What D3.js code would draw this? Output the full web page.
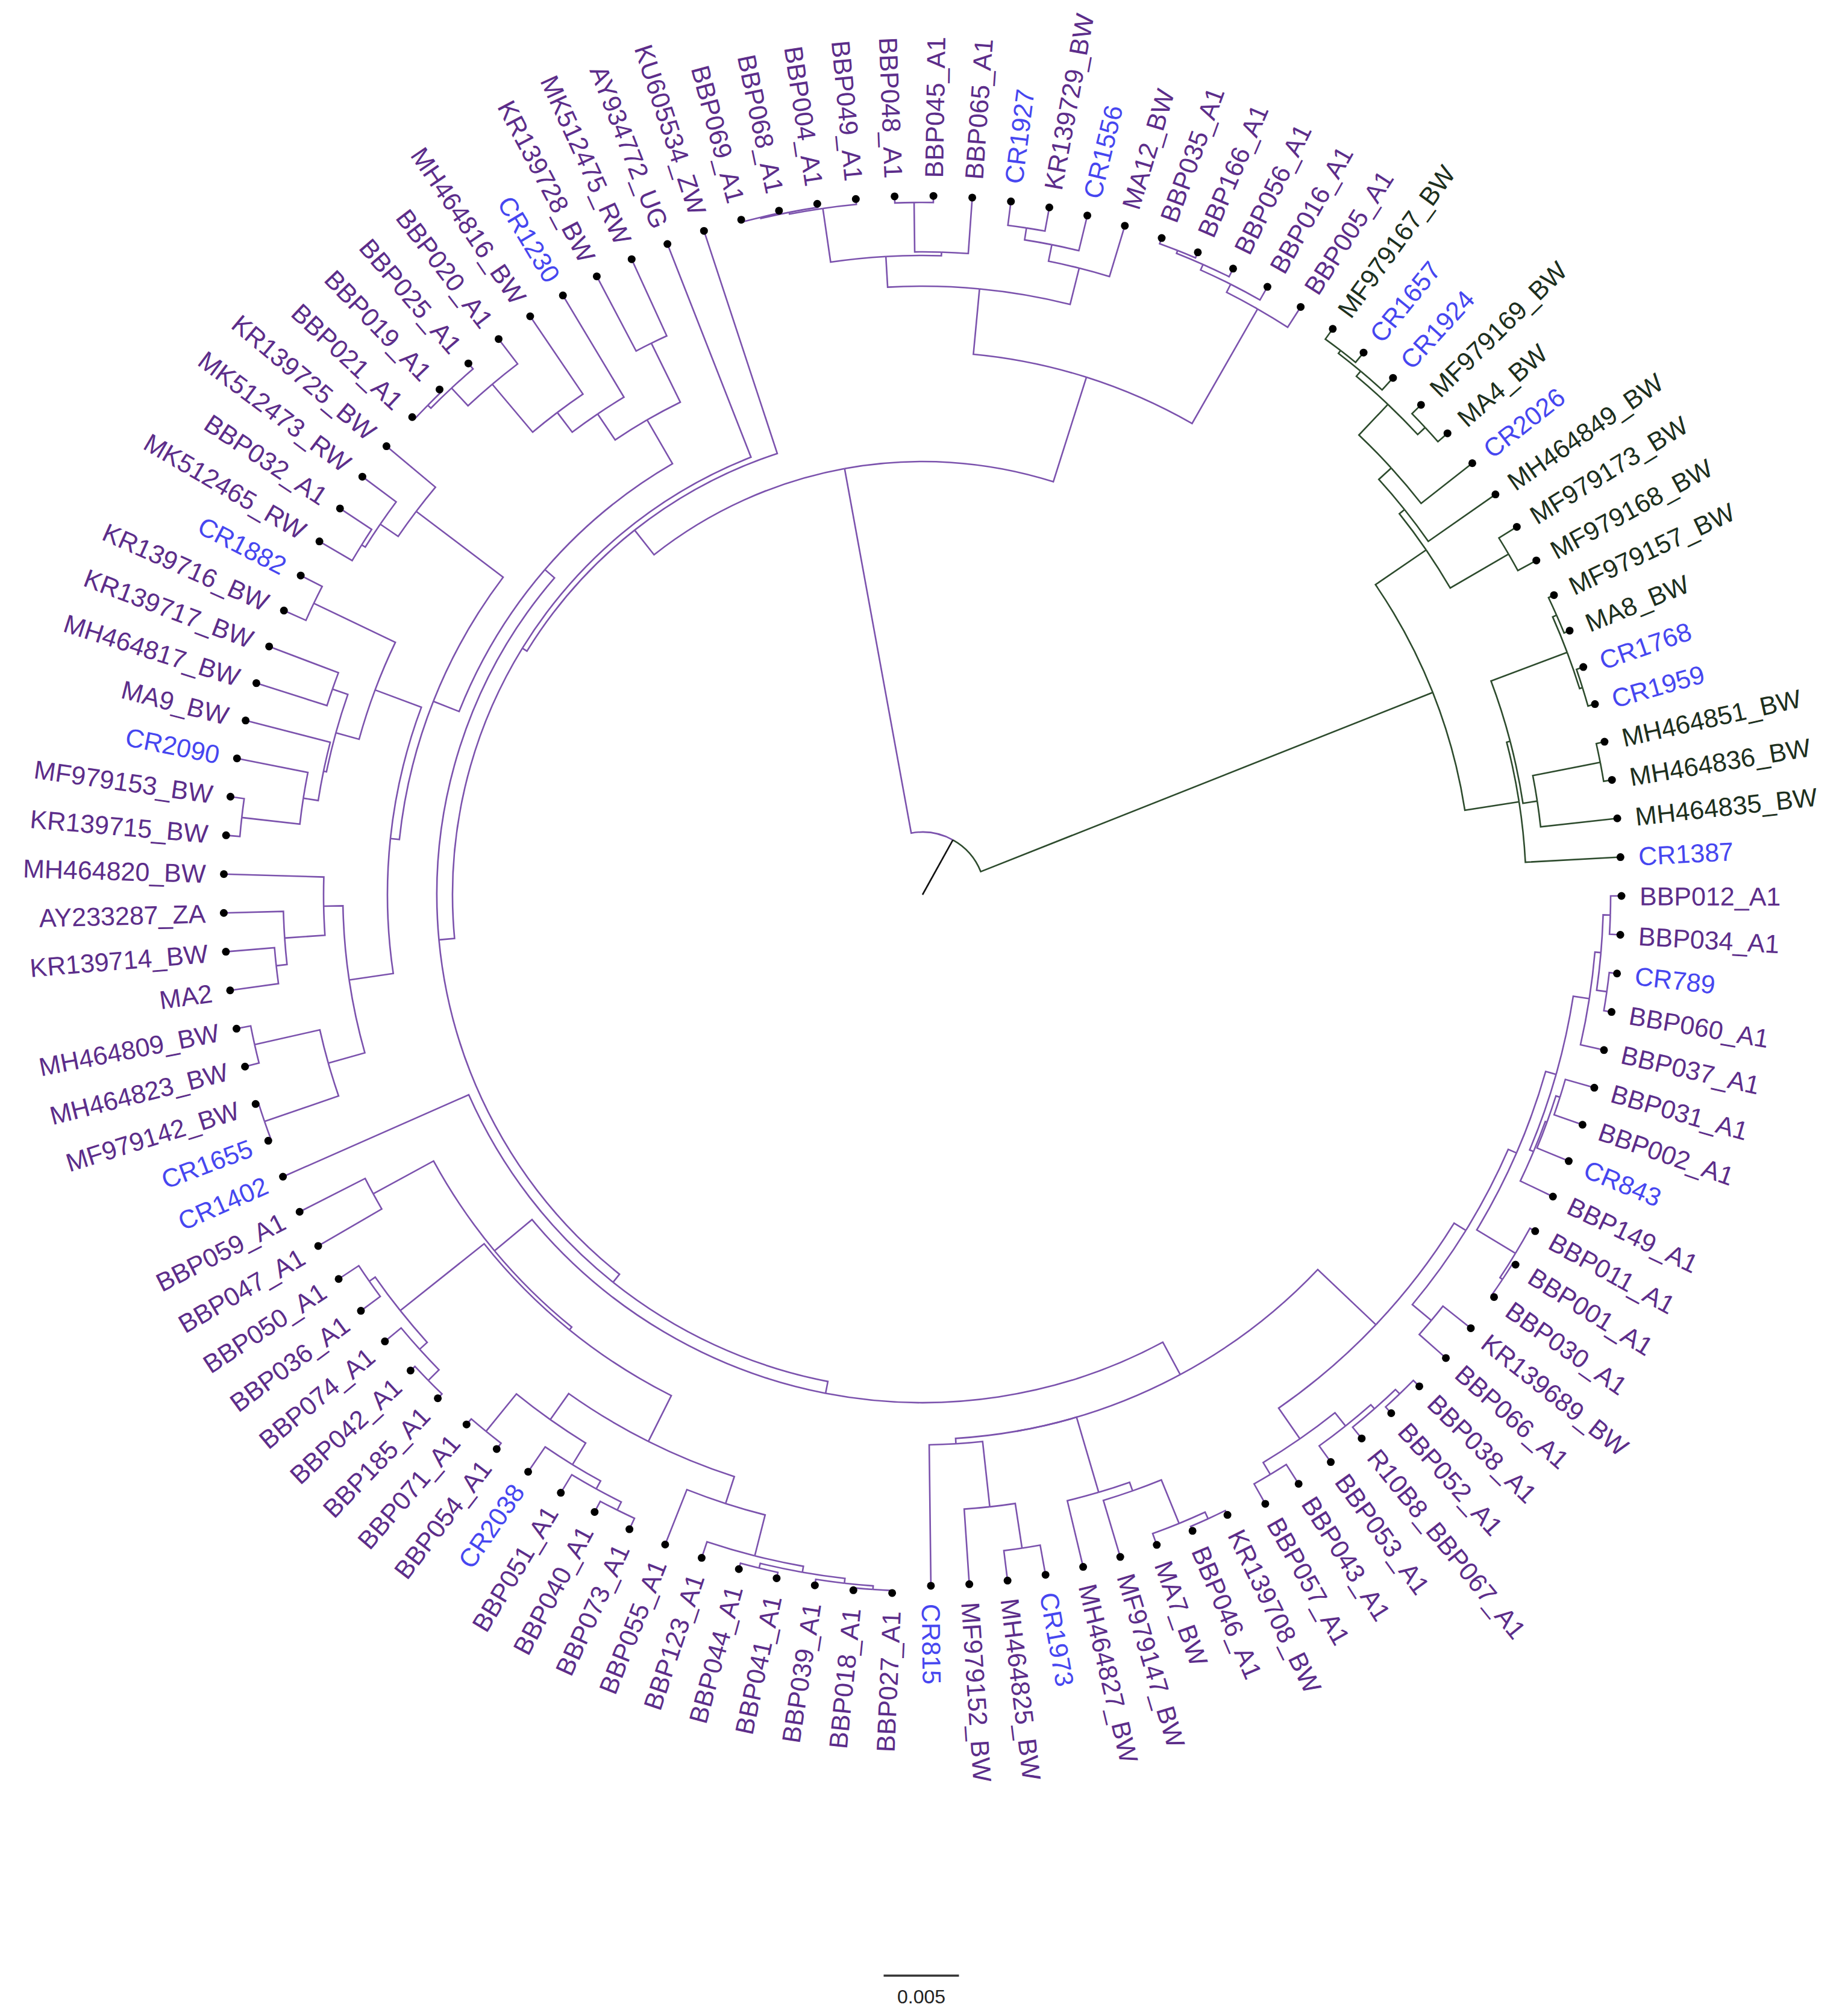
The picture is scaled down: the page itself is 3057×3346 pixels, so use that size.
<!DOCTYPE html>
<html>
<head>
<meta charset="utf-8">
<script src="https://cdn.jsdelivr.net/npm/d3@7"></script>
<style>html,body{margin:0;padding:0;background:#ffffff;}</style>
</head>
<body>
<svg id="chart" width="3057" height="3346"></svg>
<script>
// ---------------- DATA (ultrametric tree, branch lengths in substitutions/site) ----------------
// Right-hand purple clade: BBP012 ... CR815
const cladeRightA = "((((((((BBP012_A1:0.00072,BBP034_A1:0.00072):0.00048,(CR789:0.00052,BBP060_A1:0.00052):0.00068):0.0004,BBP037_A1:0.0016):0.00108," +
  "(((BBP031_A1:0.002,BBP002_A1:0.002):0.00028,CR843:0.00228):0.00012,BBP149_A1:0.0024):0.00028):0.00072," +
  "(BBP011_A1:0.0004,(BBP001_A1:0.0002,BBP030_A1:0.0002):0.0002):0.003):0.0006," +
  "(KR139689_BW:0.00236,BBP066_A1:0.00236):0.00164):0.00092," +
  "((((BBP038_A1:0.00056,BBP052_A1:0.00056):0.0004,R10B8_BBP067_A1:0.00096):0.00036,BBP053_A1:0.00132):0.00112," +
  "(BBP043_A1:0.00152,BBP057_A1:0.00152):0.00092):0.00248):0.00532,";
const cladeRightB = "(((((KR139708_BW:0.00032,BBP046_A1:0.00032):0.00048,MA7_BW:0.0008):0.00312,MF979147_BW:0.00392):0.0006,MH464827_BW:0.00452):0.0052," +
  "(((CR1973:0.002,MH464825_BW:0.002):0.003,MF979152_BW:0.005):0.00436,CR815:0.00936):0.00036))";
// Bottom-left purple clade: BBP027 ... BBP059
const cladeBottom = "((" + "((((((BBP027_A1:0.00016,BBP018_A1:0.00016):0.00024,BBP039_A1:0.0004):0.00032,(BBP041_A1:0.0004,BBP044_A1:0.0004):0.00032):0.0004,BBP123_A1:0.00112):0.0028,BBP055_A1:0.00392):0.00188," +
  "((((BBP073_A1:0.0008,BBP040_A1:0.0008):0.0006,BBP051_A1:0.0014):0.0006,CR2038:0.002):0.00168,(BBP054_A1:0.00048,BBP071_A1:0.00048):0.0032):0.00212):0.0034," +
  "(((BBP185_A1:0.0004,BBP042_A1:0.0004):0.001,BBP074_A1:0.0014):0.00068,(BBP036_A1:0.0016,BBP050_A1:0.0016):0.00048):0.00712):0.00024," +
  "(BBP047_A1:0.00488,BBP059_A1:0.00488):0.00456)";
// Left purple clade: CR1655 ... MK512475
const cladeLeft = "((((((CR1655:0.0002,MF979142_BW:0.0002):0.0052,(MH464823_BW:0.00096,MH464809_BW:0.00096):0.00444):0.00252," +
  "(((MA2:0.00324,KR139714_BW:0.00324):0.00072,AY233287_ZA:0.00396):0.00268,MH464820_BW:0.00664):0.00128):0.00296," +
  "(((((KR139715_BW:0.00092,MF979153_BW:0.00092):0.00388,CR2090:0.0048):0.001,MA9_BW:0.0058):0.0002,(MH464817_BW:0.00492,KR139717_BW:0.00492):0.00108):0.0016," +
  "(KR139716_BW:0.0016,CR1882:0.0016):0.006):0.00328):0.0006," +
  "(((MK512465_RW:0.00252,BBP032_A1:0.00252):0.00028,MK512473_RW:0.0028):0.00144,KR139725_BW:0.00424):0.00724):0.00184," +
  "((((((BBP021_A1:0.0002,BBP019_A1:0.0002):0.00028,BBP025_A1:0.00048):0.0016,BBP020_A1:0.00208):0.00416,MH464816_BW:0.00624):0.00164,CR1230:0.00788):0.00208," +
  "(KR139728_BW:0.0056,MK512475_RW:0.0056):0.00436):0.00336)";
// Top purple clade: BBP069 ... BBP005
const cladeTop = "((((((BBP069_A1:0.00016,BBP068_A1:0.00016):0.00008,BBP004_A1:0.00024):0.00012,BBP049_A1:0.00036):0.0036," +
  "((BBP048_A1:0.00044,BBP045_A1:0.00044):0.00328,BBP065_A1:0.00372):0.00024):0.00204," +
  "(((CR1927:0.0016,KR139729_BW:0.0016):0.0008,CR1556:0.0024):0.00112,MA12_BW:0.00352):0.00248):0.00436," +
  "((((BBP035_A1:0.0004,BBP166_A1:0.0004):0.0002,BBP056_A1:0.0006):0.0004,BBP016_A1:0.001):0.0006,BBP005_A1:0.0016):0.00876)";
// Green clade: MF979167 ... CR1387
const cladeGreen = "(((((((MF979167_BW:0.00084,CR1657:0.00084):0.00024,CR1924:0.00108):0.00044,(MF979169_BW:0.00084,MA4_BW:0.00084):0.00068):0.0028,CR2026:0.00432):0.00112,MH464849_BW:0.00544):0.00044," +
  "(MF979173_BW:0.0014,MF979168_BW:0.0014):0.00448):0.00408," +
  "((((MF979157_BW:0.0004,MA8_BW:0.0004):0.00028,(CR1768:0.00048,CR1959:0.00048):0.0002):0.0054," +
  "((MH464851_BW:0.00056,MH464836_BW:0.00056):0.00456,MH464835_BW:0.00512):0.00096):0.00024,CR1387:0.00632):0.00364)";

// Assemble the whole tree
const zClade = "((" + cladeRightA + cladeRightB + ":0.00244," + cladeBottom + ":0.00324):0.0008,CR1402:0.01348)";
const purpleClade = "((((" + zClade + ":0.00068," + cladeLeft + ":0.00084):0.00104,AY934772_UG:0.0152):0.00036,KU605534_ZW:0.01556):0.00208," + cladeTop + ":0.00728)";
const newick = "(" + purpleClade + ":0.0246," + cladeGreen + ":0.03228):0.00416;";

// Labels printed in blue
const blueLabels = ["CR1230","CR1882","CR2090","CR1655","CR1402","CR2038","CR815","CR1973","CR843","CR789",
  "CR1387","CR1959","CR1768","CR2026","CR1924","CR1657","CR1556","CR1927"];
const scaleBarValue = 0.005;
const scaleBarLabel = "0.005";

// ---------------- STYLE ----------------
const W = 3057, H = 3346;
const CX = 1531, CY = 1485;
const TIP_R = 1160;
const LABEL_GAP = 30;
const START_ANGLE = 90.1; // compass degrees of first leaf
const COL = {
  purpleBranch: "#7b52ad", purpleText: "#5c2d8a",
  greenBranch: "#2d4b2d", greenText: "#1d2f1d",
  blue: "#4646f0", root: "#111111"
};

// ---------------- PARSE ----------------
function parseNewick(s) {
  let i = 0;
  function node() {
    const n = { name: "", length: 0 };
    if (s[i] === "(") {
      i++;
      n.children = [];
      while (true) {
        n.children.push(node());
        if (s[i] === ",") { i++; continue; }
        break;
      }
      if (s[i] === ")") i++;
    }
    let name = "";
    while (i < s.length && !",():;".includes(s[i])) name += s[i++];
    n.name = name.trim();
    if (s[i] === ":") {
      i++;
      let num = "";
      while (i < s.length && !",();".includes(s[i])) num += s[i++];
      n.length = parseFloat(num);
    }
    return n;
  }
  return node();
}

const svg = d3.select("#chart");
svg.append("rect").attr("width", W).attr("height", H).attr("fill", "#ffffff");

const root = d3.hierarchy(parseNewick(newick), d => d.children);
const leaves = root.leaves();
const nLeaves = leaves.length;

// clade membership for colours
root.each(d => d.clade = "purple");
if (root.children && root.children[1]) root.children[1].each(d => d.clade = "green");
root.clade = "root";

// angles: leaves evenly spaced, internal = midpoint of first/last child
const angleScale = d3.scaleLinear().domain([0, nLeaves]).range([START_ANGLE, START_ANGLE + 360]);
leaves.forEach((l, i) => l.angle = angleScale(i));
root.eachAfter(d => {
  if (d.children) d.angle = (d.children[0].angle + d.children[d.children.length - 1].angle) / 2;
});
// distances from centre
root.eachBefore(d => d.dist = (d.parent ? d.parent.dist : 0) + (d.data.length || 0));
const maxDist = d3.max(leaves, l => l.dist);
const rScale = d3.scaleLinear().domain([0, maxDist]).range([0, TIP_R]);

const rad = a => a * Math.PI / 180;
const polar = (r, a) => [r * Math.sin(rad(a)), -r * Math.cos(rad(a))];

const g = svg.append("g").attr("transform", `translate(${CX},${CY})`);

// branches
const links = root.descendants().filter(d => d.parent);
g.append("g").attr("fill", "none").attr("stroke-width", 2.6)
  .selectAll("path").data(links).join("path")
  .attr("stroke", d => d.clade === "green" ? COL.greenBranch : COL.purpleBranch)
  .attr("d", d => {
    const p = d.parent;
    const rp = rScale(p.dist), rc = rScale(d.dist);
    const a0 = rad(p.angle) - Math.PI / 2, a1 = rad(d.angle) - Math.PI / 2;
    const path = d3.path();
    const s = polar(rp, p.angle);
    path.moveTo(s[0], s[1]);
    if (Math.abs(a1 - a0) > 1e-9) path.arc(0, 0, rp, a0, a1, a1 < a0);
    const e = polar(rc, d.angle);
    path.lineTo(e[0], e[1]);
    return path.toString();
  });

// root stem
const rs = polar(rScale(root.dist), root.angle);
g.append("line").attr("x1", 0).attr("y1", 0).attr("x2", rs[0]).attr("y2", rs[1])
  .attr("stroke", COL.root).attr("stroke-width", 2.6);

// tip dots
g.append("g").selectAll("circle").data(leaves).join("circle")
  .attr("cx", d => polar(rScale(d.dist), d.angle)[0])
  .attr("cy", d => polar(rScale(d.dist), d.angle)[1])
  .attr("r", 6.5).attr("fill", "#000000");

// labels
const flip = a => { const m = ((a % 360) + 360) % 360; return m > 180 && m < 360; };
g.append("g").attr("font-family", "'Liberation Sans', Arial, Helvetica, sans-serif").attr("font-size", 43)
  .selectAll("text").data(leaves).join("text")
  .attr("transform", d => `rotate(${d.angle - 90}) translate(${rScale(d.dist) + LABEL_GAP},0)` + (flip(d.angle) ? " rotate(180)" : ""))
  .attr("text-anchor", d => flip(d.angle) ? "end" : "start")
  .attr("dy", "0.36em")
  .attr("fill", d => blueLabels.includes(d.data.name) ? COL.blue : (d.clade === "green" ? COL.greenText : COL.purpleText))
  .text(d => d.data.name);

// scale bar
const barLen = rScale(scaleBarValue) - rScale(0);
const barCX = 1529, barY = 3279;
svg.append("line").attr("x1", barCX - barLen / 2).attr("x2", barCX + barLen / 2)
  .attr("y1", barY).attr("y2", barY).attr("stroke", "#333333").attr("stroke-width", 3.5);
svg.append("text").attr("x", barCX).attr("y", 3325).attr("text-anchor", "middle")
  .attr("font-family", "'Liberation Sans', Arial, Helvetica, sans-serif").attr("font-size", 32)
  .attr("fill", "#222222").text(scaleBarLabel);

if (nLeaves !== 113) {
  svg.append("text").attr("x", 50).attr("y", 3300).attr("font-size", 40).attr("fill", "red").text("leaf count " + nLeaves);
}
</script>
</body>
</html>
